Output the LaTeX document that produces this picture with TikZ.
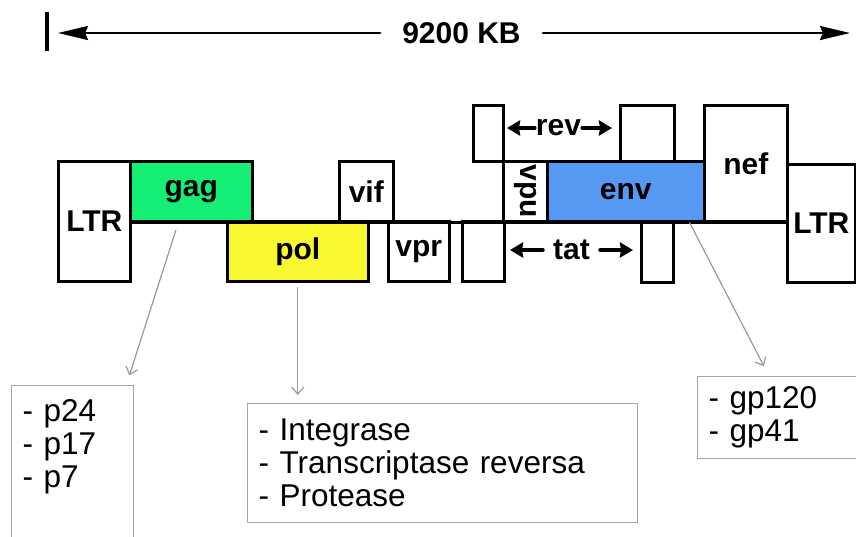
\documentclass[tikz,border=0pt]{standalone}
\usepackage{fontspec}
\setmainfont{Liberation Sans}
\usetikzlibrary{arrows.meta,calc}

\definecolor{gagfill}{HTML}{14EE74}
\definecolor{polfill}{HTML}{F8F832}
\definecolor{envfill}{HTML}{5599F3}

\tikzset{
  genebox/.style={draw, line width=2.6pt, line join=miter, anchor=north west, inner sep=0pt, font=\fontsize{30}{31}\selectfont\bfseries},
  genelabel/.style={inner sep=0pt, font=\fontsize{30}{31}\selectfont\bfseries},
  listbox/.style={draw=black!35, line width=1.3pt, line join=miter, anchor=north west, align=left, inner xsep=11pt, font=\fontsize{31.5}{33}\selectfont},
  pointer/.style={draw=black!40, line width=1.2pt, -{Straight Barb[length=7pt,width=12pt]}},
  scalearrow/.style={line width=2.6pt, -{Stealth[length=30pt,width=14pt,inset=3pt]}},
  exonarrow/.style={line width=3.5pt, -{Stealth[length=13pt,width=15pt,inset=1pt]}}
}

\begin{document}
\begin{tikzpicture}[x=1pt, y=-1pt, >=stealth, line join=round, line cap=round]
	\useasboundingbox (0,0) rectangle (856,536);
	
	% [Scale bar - Layer 1]
	\coordinate (barT) at (47,12);
	\coordinate (barB) at (47,51);
	\coordinate (kbL) at (58,33);
	\coordinate (kbR) at (850,33);
	\node[genelabel, inner xsep=22pt] (kb) at (461.5,33) {9200 KB};
	\draw[line width=4pt, line cap=butt] (barT) -- (barB);
	\draw[scalearrow] (kb.west) -- (kbL);
	\draw[scalearrow] (kb.east) -- (kbR);
	
	% [Genes - Layer 2]
	\node[genebox, minimum width=72pt, minimum height=120pt] (ltrL) at (57,160) {LTR};
	\node[genebox, fill=gagfill, minimum width=122pt, minimum height=60pt] (gag) at (129,160) {gag};
	\node[genebox, fill=polfill, minimum width=141pt, minimum height=60pt] (pol) at (226,220) {pol};
	\node[genebox, minimum width=54pt, minimum height=60pt] (vif) at (338,160) {vif};
	\node[genebox, minimum width=61pt, minimum height=60pt] (vpr) at (387,220) {vpr};
	\node[genebox, minimum width=42pt, minimum height=60pt] (tatA) at (461,220) {};
	\node[genebox, minimum width=30pt, minimum height=56pt] (revA) at (472,104) {};
	\node[genebox, rotate=-90, anchor=south west, minimum width=60pt, minimum height=44pt] (vpu) at (502,160) {vpu};
	\node[genebox, fill=envfill, minimum width=157pt, minimum height=60pt] (env) at (546,160) {env};
	\node[genebox, minimum width=54pt, minimum height=56pt] (revB) at (619,104) {};
	\node[genebox, minimum width=32pt, minimum height=61pt] (tatB) at (640,220) {};
	\node[genebox, minimum width=83pt, minimum height=116pt] (nef) at (703,104) {nef};
	\node[genebox, minimum width=68pt, minimum height=118pt] (ltrR) at (786,163) {LTR};
	\draw[line width=2.6pt] (ltrL.east |- gag.south) -- (ltrR.west |- gag.south);
	
	% [Exon labels - Layer 3]
	\coordinate (revL) at (507,128);
	\coordinate (revR) at (612,128);
	\node[genelabel, inner xsep=1pt] (revlbl) at (558.5,128) {rev};
	\draw[exonarrow] (revlbl.west) -- (revL);
	\draw[exonarrow] (revlbl.east) -- (revR);
	\coordinate (tatL) at (510,250);
	\coordinate (tatR) at (633,250);
	\node[genelabel, inner xsep=10pt] (tatlbl) at (571.5,250) {tat};
	\draw[exonarrow] (tatlbl.west) -- (tatL);
	\draw[exonarrow] (tatlbl.east) -- (tatR);
	
	% [Products - Layer 4]
	\node[listbox, text width=100pt, inner ysep=14pt] (gaglist) at (11,385) {- p24\\- p17\\- p7\\[90pt]\mbox{}};
	\node[listbox, text width=368pt, minimum height=119pt] (pollist) at (247,403) {- Integrase\\- Transcriptase reversa\\- Protease};
	\node[listbox, text width=150pt, minimum height=82pt] (gplist) at (697,376) {- gp120\\- gp41};
	\draw[pointer, shorten <=8pt, shorten >=10pt] ([xshift=-13pt]gag.south) -- ([xshift=-8pt]gaglist.north east);
	\draw[pointer, shorten <=5pt, shorten >=8pt] (pol.south) -- (pol.south |- pollist.north);
	\draw[pointer, shorten >=11pt] ([xshift=-16pt]env.south east) -- ([xshift=72pt]gplist.north west);
\end{tikzpicture}
\end{document}
